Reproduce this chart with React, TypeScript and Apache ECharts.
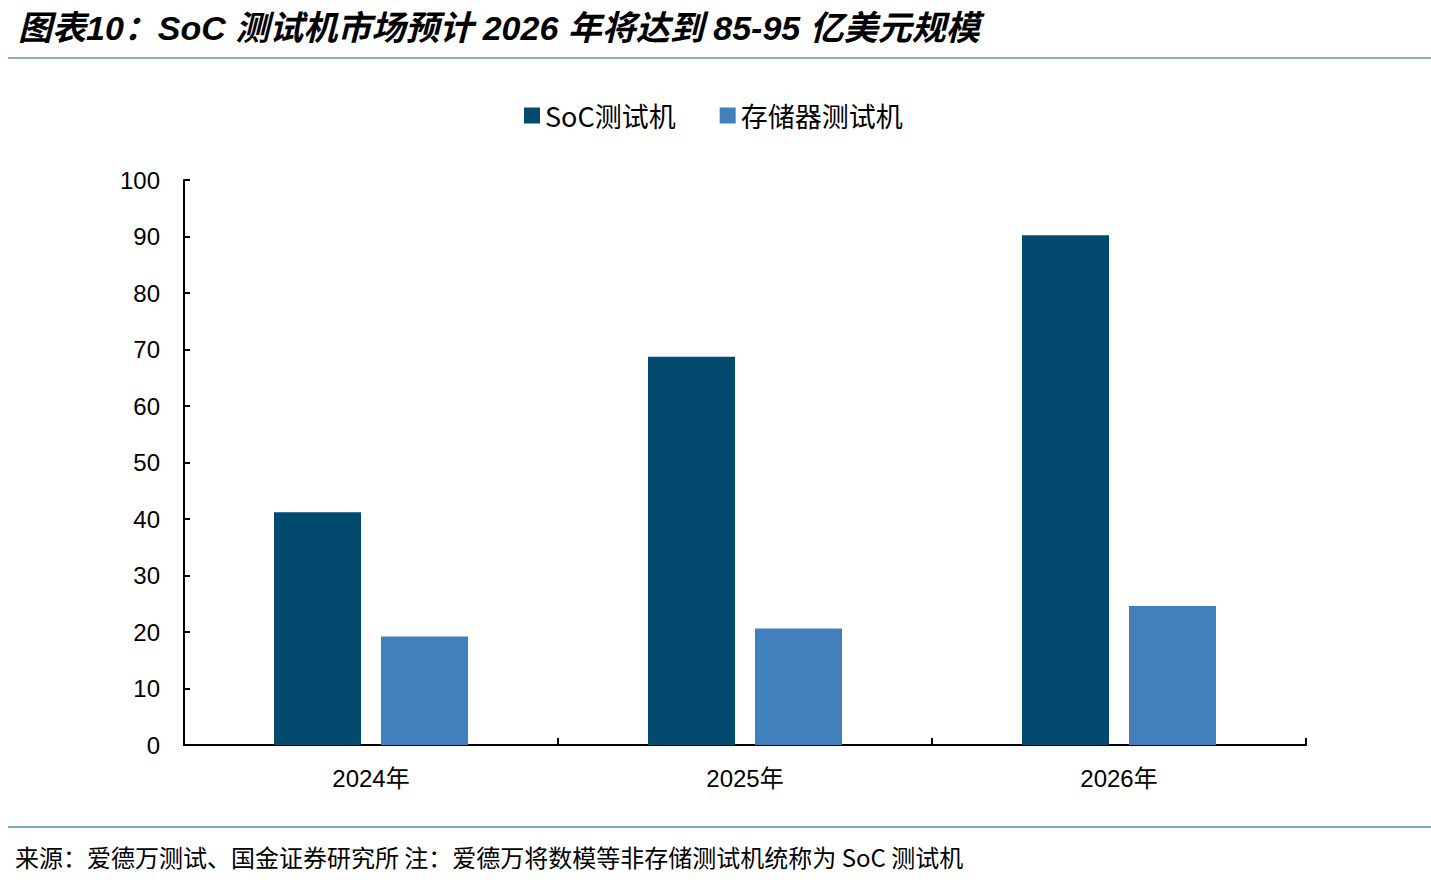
import React, { useEffect, useRef } from "react";
import * as echarts from "echarts";

const categories = ["2024年", "2025年", "2026年"];
const socValues = [41.2, 68.7, 90.2];
const memoryValues = [19.2, 20.6, 24.6];
const seriesNames = ["SoC测试机", "存储器测试机"];
const titleText = "图表10：SoC 测试机市场预计 2026 年将达到 85-95 亿美元规模";
const footerText = "来源：爱德万测试、国金证券研究所 注：爱德万将数模等非存储测试机统称为 SoC 测试机";

const FONT = "'Liberation Sans', Arial, 'Noto Sans CJK SC', sans-serif";
const CJK = "'Noto Sans CJK SC', 'Liberation Sans', sans-serif";

export default function App() {
  const ref = useRef<HTMLDivElement>(null);
  useEffect(() => {
    document.body.style.margin = "0";
    const chart = echarts.init(ref.current!, undefined, { renderer: "svg" });
    chart.setOption({
      animation: false,
      backgroundColor: "#ffffff",
      legend: {
        top: 102,
        left: 524,
        padding: 0,
        itemWidth: 16,
        itemHeight: 16,
        itemGap: 44,
        icon: "rect",
        textStyle: { fontSize: 27, color: "#000", fontFamily: CJK },
        data: seriesNames,
      },
      grid: { left: 184, right: 125, top: 180, bottom: 135, containLabel: false },
      xAxis: {
        type: "category",
        data: categories,
        axisLine: { lineStyle: { color: "#000", width: 2 } },
        axisTick: { show: true, inside: true, length: 7, lineStyle: { color: "#000", width: 2 } },
        axisLabel: { fontSize: 24, color: "#000", margin: 21, fontFamily: FONT },
      },
      yAxis: {
        type: "value",
        min: 0,
        max: 100,
        interval: 10,
        splitLine: { show: false },
        axisLine: { show: true, lineStyle: { color: "#000", width: 2 } },
        axisTick: { show: true, inside: true, length: 6, lineStyle: { color: "#000", width: 2 } },
        axisLabel: { fontSize: 24, color: "#000", margin: 24, fontFamily: FONT },
      },
      series: [
        {
          name: seriesNames[0],
          type: "bar",
          data: socValues,
          barWidth: 87,
          barGap: "23%",
          itemStyle: { color: "#024a6e" },
        },
        {
          name: seriesNames[1],
          type: "bar",
          data: memoryValues,
          barWidth: 87,
          barGap: "23%",
          itemStyle: { color: "#417fbd" },
        },
      ],
      graphic: [
        {
          type: "text",
          left: 18,
          top: 11,
          style: {
            text: titleText,
            fontSize: 34,
            fontWeight: "bold",
            fontStyle: "italic",
            fontFamily: FONT,
            fill: "#000",
          },
        },
        {
          type: "line",
          shape: { x1: 8, y1: 58, x2: 1431, y2: 58 },
          style: { stroke: "#8badc0", lineWidth: 2 },
        },
        {
          type: "line",
          shape: { x1: 8, y1: 827, x2: 1431, y2: 827 },
          style: { stroke: "#5b8aa6", lineWidth: 1.5 },
        },
        {
          type: "text",
          left: 15,
          top: 844,
          style: {
            text: footerText,
            fontSize: 24,
            fontFamily: CJK,
            fill: "#000",
          },
        },
      ],
    });
    return () => chart.dispose();
  }, []);
  return <div ref={ref} style={{ width: 1431, height: 880 }} />;
}
